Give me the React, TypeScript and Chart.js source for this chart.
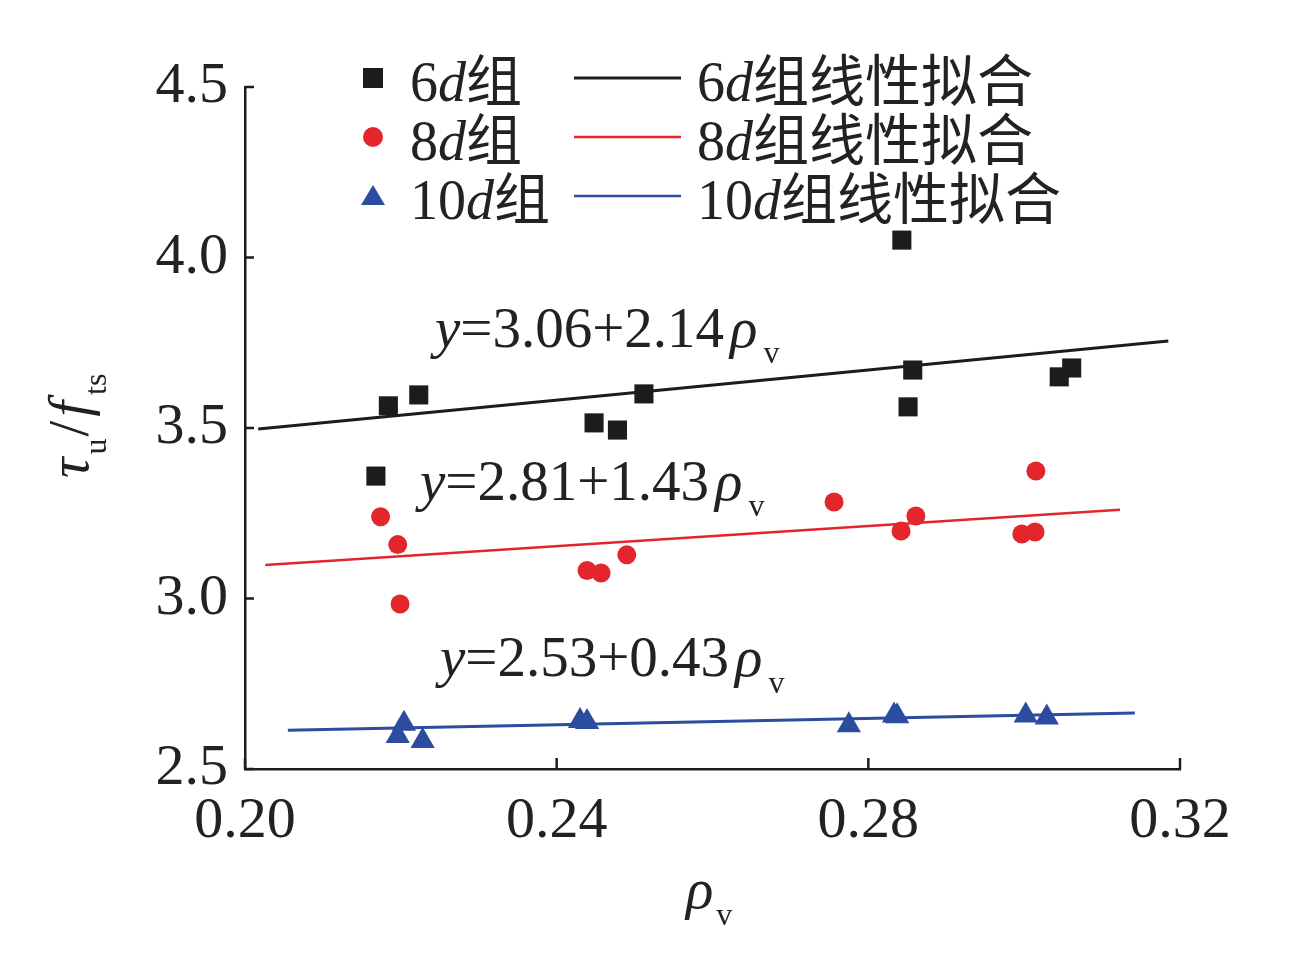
import { useEffect, useRef } from "react";
import Chart from "chart.js/auto";

const FONT = '"Liberation Serif", "Times New Roman", "Noto Sans CJK SC", serif';
const INK = "#1c1c1c";
const TEXT = "#222222";
const RED = "#e2262b";
const BLUE = "#2c4c9f";

// measured points, rho_v on x and tau_u / f_ts on y
const group6Rho = [0.2184, 0.2223, 0.2168, 0.2448, 0.2478, 0.2512, 0.2843, 0.2857, 0.2851, 0.3045, 0.3061];
const group6Tau = [3.565, 3.597, 3.359, 3.515, 3.494, 3.6, 4.051, 3.67, 3.562, 3.65, 3.676];

const group8Rho = [0.2174, 0.2196, 0.2199, 0.2439, 0.2457, 0.249, 0.2756, 0.2842, 0.2861, 0.2997, 0.3014, 0.3015];
const group8Tau = [3.24, 3.158, 2.984, 3.082, 3.075, 3.128, 3.283, 3.198, 3.242, 3.189, 3.195, 3.374];

const group10Rho = [0.2204, 0.2196, 0.2228, 0.243, 0.2439, 0.2775, 0.2833, 0.2837, 0.3002, 0.3029];
const group10Tau = [2.633, 2.597, 2.582, 2.641, 2.638, 2.628, 2.657, 2.655, 2.657, 2.651];

// fitted line end points
const fit6Rho = [0.2017, 0.3185];
const fit6Tau = [3.497, 3.755];
const fit8Rho = [0.2026, 0.3123];
const fit8Tau = [3.098, 3.26];
const fit10Rho = [0.2055, 0.3142];
const fit10Tau = [2.614, 2.664];

const xTicks = { min: 0.2, max: 0.32, step: 0.04 };
const yTicks = { min: 2.5, max: 4.5, step: 0.5 };

const groupNames = ["6", "8", "10"];

type Seg = { t: string; it?: boolean; sub?: boolean; dx?: number };

function drawRich(ctx: CanvasRenderingContext2D, segs: Seg[], x: number, y: number, size: number, subSize: number, subDrop: number) {
  let cx = x;
  ctx.textBaseline = "alphabetic";
  ctx.textAlign = "left";
  for (const s of segs) {
    cx += s.dx ?? 0;
    ctx.font = `${s.it ? "italic " : ""}${s.sub ? subSize : size}px ${FONT}`;
    ctx.fillText(s.t, cx, s.sub ? y + subDrop : y);
    cx += ctx.measureText(s.t).width;
  }
}

const pairs = (xs: number[], ys: number[]) => xs.map((x, i) => ({ x, y: ys[i] }));

const overlay = {
  id: "overlay",
  afterDraw(chart: Chart) {
    const { ctx, chartArea } = chart;
    const xs = chart.scales.x;
    const ys = chart.scales.y;
    ctx.save();

    // inward tick marks
    ctx.strokeStyle = INK;
    ctx.lineWidth = 2.5;
    xs.ticks.forEach((t) => {
      const px = xs.getPixelForValue(t.value);
      ctx.beginPath();
      ctx.moveTo(px, chartArea.bottom);
      ctx.lineTo(px, chartArea.bottom - 11);
      ctx.stroke();
    });
    ys.ticks.forEach((t) => {
      const py = ys.getPixelForValue(t.value);
      ctx.beginPath();
      ctx.moveTo(chartArea.left, py);
      ctx.lineTo(chartArea.left + 9, py);
      ctx.stroke();
    });

    // legend
    const rowY = [78, 137, 196];
    const colors = [INK, RED, BLUE];
    rowY.forEach((cy, i) => {
      ctx.fillStyle = colors[i];
      ctx.beginPath();
      if (i === 0) ctx.rect(363, cy - 10, 20, 20);
      else if (i === 1) ctx.arc(373, cy, 10, 0, Math.PI * 2);
      else {
        ctx.moveTo(373, cy - 11);
        ctx.lineTo(385, cy + 9);
        ctx.lineTo(361, cy + 9);
        ctx.closePath();
      }
      ctx.fill();

      ctx.strokeStyle = colors[i];
      ctx.lineWidth = i === 0 ? 3 : 2.5;
      ctx.beginPath();
      ctx.moveTo(574, cy);
      ctx.lineTo(681, cy);
      ctx.stroke();

      ctx.fillStyle = TEXT;
      const label: Seg[] = [{ t: groupNames[i] }, { t: "d", it: true }, { t: "组" }];
      drawRich(ctx, label, 410, cy + 23, 56, 32, 0);
      drawRich(ctx, [...label, { t: "线性拟合" }], 697, cy + 23, 56, 32, 0);
    });

    // fit equations
    ctx.fillStyle = TEXT;
    const eq = (s: string): Seg[] => [{ t: "y", it: true }, { t: s }, { t: "ρ", it: true, dx: 6 }, { t: "v", sub: true, dx: 6 }];
    drawRich(ctx, eq("=3.06+2.14"), 435, 347, 57, 32, 16);
    drawRich(ctx, eq("=2.81+1.43"), 420, 500, 57, 32, 16);
    drawRich(ctx, eq("=2.53+0.43"), 440, 676, 57, 32, 17);

    // axis titles
    drawRich(ctx, [{ t: "ρ", it: true }, { t: "v", sub: true, dx: 3 }], 686, 908, 57, 32, 17);
    ctx.save();
    ctx.translate(88, 478);
    ctx.rotate(-Math.PI / 2);
    drawRich(
      ctx,
      [{ t: "τ", it: true }, { t: "u", sub: true, dx: 3 }, { t: "/", dx: 2 }, { t: "f", it: true, dx: 4 }, { t: "ts", sub: true, dx: 6 }],
      0,
      0,
      57,
      32,
      18
    );
    ctx.restore();

    ctx.restore();
  },
};

export default function App() {
  const canvasRef = useRef<HTMLCanvasElement | null>(null);
  const chartRef = useRef<Chart | null>(null);

  useEffect(() => {
    if (!canvasRef.current) return;
    chartRef.current?.destroy();

    const tickFont = { family: FONT, size: 58 };

    chartRef.current = new Chart(canvasRef.current, {
      type: "scatter",
      data: {
        datasets: [
          { type: "line", data: pairs(fit6Rho, fit6Tau), borderColor: INK, borderWidth: 3, pointRadius: 0, fill: false, order: 2 },
          { type: "line", data: pairs(fit8Rho, fit8Tau), borderColor: RED, borderWidth: 2.5, pointRadius: 0, fill: false, order: 2 },
          { type: "line", data: pairs(fit10Rho, fit10Tau), borderColor: BLUE, borderWidth: 3, pointRadius: 0, fill: false, order: 2 },
          {
            data: pairs(group6Rho, group6Tau),
            pointStyle: "rect",
            pointRadius: 13.5,
            backgroundColor: INK,
            borderColor: INK,
            pointBorderWidth: 0,
            order: 1,
          },
          {
            data: pairs(group8Rho, group8Tau),
            pointStyle: "circle",
            pointRadius: 9.5,
            backgroundColor: RED,
            borderColor: RED,
            pointBorderWidth: 0,
            order: 1,
          },
          {
            data: pairs(group10Rho, group10Tau),
            pointStyle: "triangle",
            pointRadius: 14,
            backgroundColor: BLUE,
            borderColor: BLUE,
            pointBorderWidth: 0,
            order: 1,
          },
        ],
      },
      options: {
        responsive: false,
        animation: false,
        layout: { padding: { top: 87, right: 129, left: 0, bottom: 0 } },
        plugins: { legend: { display: false }, tooltip: { enabled: false } },
        scales: {
          x: {
            type: "linear",
            min: xTicks.min,
            max: xTicks.max,
            grid: { display: false },
            border: { display: true, color: INK, width: 2.5 },
            ticks: {
              stepSize: xTicks.step,
              autoSkip: false,
              maxRotation: 0,
              padding: 10,
              color: TEXT,
              font: tickFont,
              callback: (v) => Number(v).toFixed(2),
            },
            afterFit: (s) => {
              s.height = 186;
            },
          },
          y: {
            type: "linear",
            min: yTicks.min,
            max: yTicks.max,
            grid: { display: false },
            border: { display: true, color: INK, width: 2.5 },
            ticks: {
              stepSize: yTicks.step,
              padding: 9,
              color: TEXT,
              font: tickFont,
              callback: (v) => Number(v).toFixed(1),
            },
            afterFit: (s) => {
              s.width = 245;
            },
          },
        },
      },
      plugins: [overlay],
    });

    return () => {
      chartRef.current?.destroy();
      chartRef.current = null;
    };
  }, []);

  return (
    <div style={{ position: "absolute", left: 0, top: 0, width: 1309, height: 955, background: "#fff" }}>
      <canvas ref={canvasRef} width={1309} height={955} />
    </div>
  );
}
